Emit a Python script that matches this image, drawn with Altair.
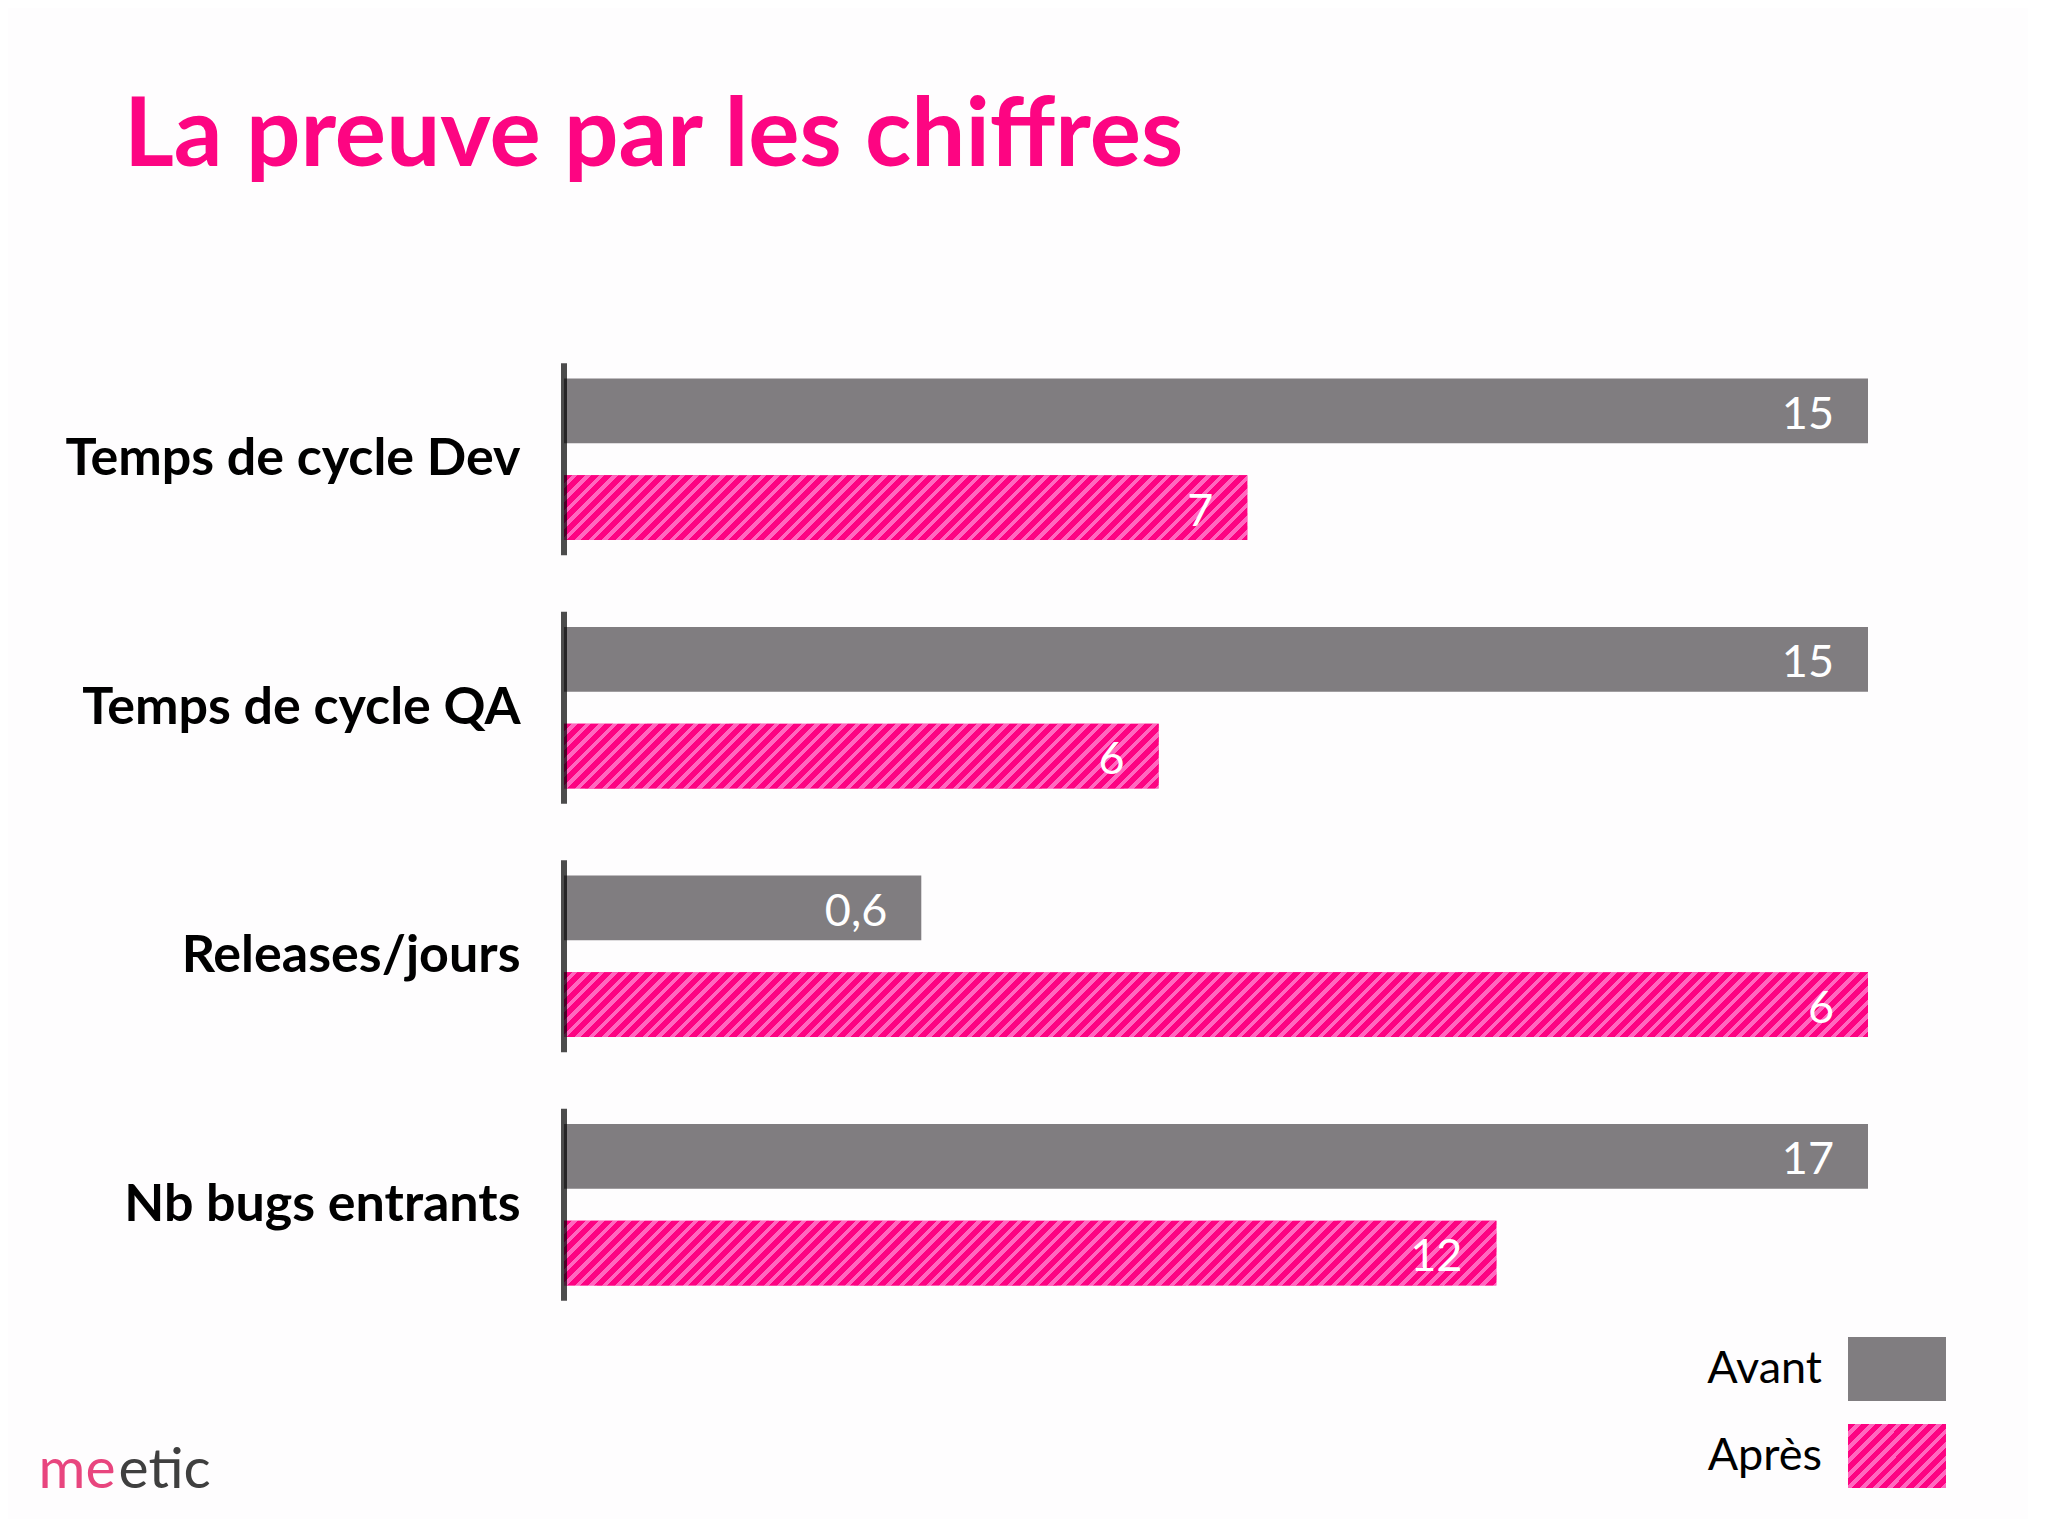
import altair as alt
import pandas as pd

# ---------------- data ----------------
categories = ["Temps de cycle Dev", "Temps de cycle QA", "Releases/jours", "Nb bugs entrants"]
series = ["Avant", "Après"]
avant_values = [15, 15, 0.6, 17]
apres_values = [7, 6, 6, 12]
# bar lengths as drawn in the picture (% of the longest bar)
avant_lengths = [100, 100, 27.4, 100]
apres_lengths = [52.4, 45.6, 100, 71.5]

# ---------------- style ----------------
GRAY = "#807d80"
PINK = "#fd0382"
PINK_LIGHT = "#ff68bf"
TITLE_PINK = "#fd0582"
FONT = "Lato"

PAD_L, PAD_T, PAD_R, PAD_B = 556, 327, 160, 190
W, H = 1304, 994
Y_PAD_INNER = 0.35
OFF_PAD_INNER = 0.33

step = H / len(categories)
band = step * (1 - Y_PAD_INNER)
sub_step = band / (2 - OFF_PAD_INNER)
BAR_H = sub_step * (1 - OFF_PAD_INNER)


def fmt(v):
    return f"{v:g}".replace(".", ",")


def stripe_stops(w, h, period=13.5, light=0.42):
    d = w + h
    p = period / d
    stops = []
    k = 0
    while k * p < 1:
        s0 = k * p
        s1 = min((k + 1 - light) * p, 1.0)
        s2 = min((k + 1) * p, 1.0)
        stops += [(s0, PINK), (s1, PINK), (s1, PINK_LIGHT), (s2, PINK_LIGHT)]
        k += 1
    r = h / w
    a = (1 + r) / (1 + r * r)
    return stops, a, a * r


def stripe_gradient(w, h):
    stops, x2, y2 = stripe_stops(w, h)
    return alt.LinearGradient(
        gradient="linear", x1=0, y1=0, x2=x2, y2=y2,
        stops=[alt.GradientStop(offset=round(o, 5), color=c) for o, c in stops],
    )


def stripe_expr(w, h):
    stops, x2, y2 = stripe_stops(w, h)
    s = ",".join("{offset:%s,color:'%s'}" % (round(o, 5), c) for o, c in stops)
    return "{gradient:'linear',x1:0,y1:0,x2:%s,y2:%s,stops:[%s]}" % (round(x2, 5), round(y2, 5), s)


rows = []
for c, v, l in zip(categories, avant_values, avant_lengths):
    rows.append({"category": c, "series": "Avant", "value": v, "label": fmt(v), "length": l})
for c, v, l in zip(categories, apres_values, apres_lengths):
    rows.append({"category": c, "series": "Après", "value": v, "label": fmt(v), "length": l})
df = pd.DataFrame(rows)
cat_df = pd.DataFrame({"category": categories})

LEG_W, LEG_H = 98, 64

x_enc = alt.X(
    "length:Q",
    scale=alt.Scale(domain=[0, 100], nice=False, zero=True),
    axis=alt.Axis(
        title="etic", labels=False, ticks=False, domain=False, grid=False,
        titleX=-446, titleY=158, titleAlign="left", titleBaseline="alphabetic",
        titleFont=FONT, titleFontWeight=400, titleFontSize=57, titleColor="#3f3f3f",
        titleAnchor="start",
    ),
)
y_enc = alt.Y(
    "category:N",
    sort=categories,
    scale=alt.Scale(paddingInner=Y_PAD_INNER, paddingOuter=Y_PAD_INNER / 2),
    axis=alt.Axis(
        title="me", titleAngle=0, titleX=-526, titleY=1152, titleAlign="left",
        titleBaseline="alphabetic", titleFont=FONT, titleFontWeight=400,
        titleFontSize=57, titleColor="#e8457e",
        labelFont=FONT, labelFontSize=52, labelFontWeight="bold", labelColor="black",
        labelPadding=44, labelLimit=900, ticks=False, domain=False, grid=False,
    ),
)
yoff_enc = alt.YOffset(
    "series:N", sort=series,
    scale=alt.Scale(domain=series, paddingInner=OFF_PAD_INNER, paddingOuter=0),
)

bars = alt.Chart(df).mark_bar().encode(
    x=x_enc, y=y_enc, yOffset=yoff_enc,
    color=alt.Color(
        "series:N",
        sort=series,
        scale=alt.Scale(domain=series, range=[GRAY, alt.ExprRef(expr=stripe_expr(LEG_W, LEG_H))]),
        legend=alt.Legend(
            title=None, orient="none", legendX=1301, legendY=1002,
            symbolType="M-1.531,-1H1.531V1H-1.531Z", symbolSize=4096,
            symbolStrokeWidth=0, symbolOpacity=1,
            labelFont=FONT, labelFontSize=45, labelColor="black",
            labelAlign="right", labelOffset=alt.ExprRef(expr="-107"), labelLimit=400,
            rowPadding=23, padding=0,
        ),
    ),
)

overlays = []
for c, l in zip(categories, apres_lengths):
    w = l / 100 * W
    overlays.append(
        alt.Chart(df)
        .transform_filter((alt.datum.category == c) & (alt.datum.series == "Après"))
        .mark_bar(color=stripe_gradient(w, BAR_H))
        .encode(x=x_enc, y=y_enc, yOffset=yoff_enc)
    )

labels = alt.Chart(df).mark_text(
    align="right", baseline="middle", dx=-34, dy=4, color="white",
    font=FONT, fontSize=45,
).encode(x=x_enc, y=y_enc, yOffset=yoff_enc, text="label:N")

axis_lines = alt.Chart(cat_df).mark_tick(
    color="black", thickness=6, size=192, orient="vertical"
).encode(y=y_enc, x=alt.datum(0))

chart = (
    alt.layer(bars, *overlays, labels, axis_lines)
    .properties(
        width=W, height=H,
        padding={"left": PAD_L, "top": PAD_T, "right": PAD_R, "bottom": PAD_B},
        autosize=alt.AutoSizeParams(type="none"),
        background="#fefdfe",
        title=alt.TitleParams(
            text="La preuve par les chiffres", font=FONT, fontSize=96,
            fontWeight="bold", color=TITLE_PINK, anchor="start", frame="group",
            dx=-440, offset=73, baseline="alphabetic",
        ),
    )
    .configure_view(strokeWidth=0)
)

chart.save("out.html", embed_options={"renderer": "svg", "actions": False})
